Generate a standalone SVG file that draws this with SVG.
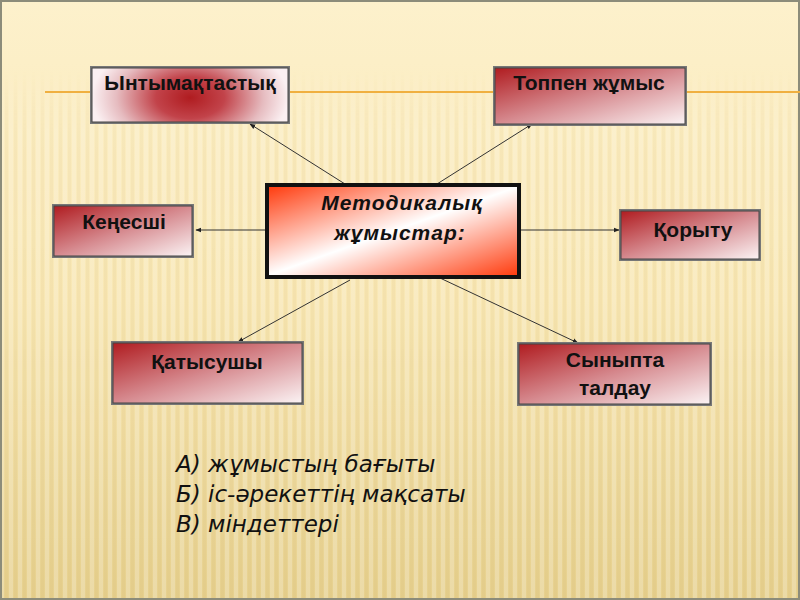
<svg xmlns="http://www.w3.org/2000/svg" width="800" height="600" viewBox="0 0 800 600">
<defs>
<linearGradient id="bg" x1="0" y1="0" x2="0" y2="1">
<stop offset="0" stop-color="#fdf1cc"/>
<stop offset="0.5" stop-color="#f8e7b4"/>
<stop offset="1" stop-color="#e6d08e"/>
</linearGradient>
<pattern id="stripes" width="9" height="10" patternUnits="userSpaceOnUse">
<rect x="0" y="0" width="4" height="10" fill="#ffffff" opacity="0.22"/>
<rect x="5" y="0" width="3" height="10" fill="#c9a85a" opacity="0.09"/>
</pattern>
<linearGradient id="fadeG" x1="0" y1="0" x2="0" y2="1">
<stop offset="0" stop-color="#fff" stop-opacity="0"/>
<stop offset="0.12" stop-color="#fff" stop-opacity="0.8"/>
<stop offset="1" stop-color="#fff" stop-opacity="1"/>
</linearGradient>
<mask id="fade"><rect x="0" y="70" width="800" height="530" fill="url(#fadeG)"/></mask>
<radialGradient id="rad" cx="0.5" cy="0.55" r="0.5" gradientTransform="translate(0.5 0.55) scale(1 2.2) translate(-0.5 -0.55)">
<stop offset="0" stop-color="#b01c20"/>
<stop offset="0.35" stop-color="#c2434a"/>
<stop offset="0.75" stop-color="#e6bcc0"/>
<stop offset="1" stop-color="#fbf0f2"/>
</radialGradient>
<linearGradient id="lin" x1="0" y1="0" x2="1" y2="1">
<stop offset="0" stop-color="#b01c20"/>
<stop offset="0.5" stop-color="#d68a8f"/>
<stop offset="1" stop-color="#fbf3f4"/>
</linearGradient>
<linearGradient id="ctr" x1="0" y1="0" x2="1" y2="1">
<stop offset="0" stop-color="#ff3d10"/>
<stop offset="0.5" stop-color="#ffffff"/>
<stop offset="1" stop-color="#ff3d10"/>
</linearGradient>
<marker id="ah" viewBox="0 0 10 10" refX="9" refY="5" markerWidth="6" markerHeight="6" orient="auto">
<path d="M0,1 L10,5 L0,9 z" fill="#222"/>
</marker>
<style>
.lbl { font-family:"Liberation Sans", Arial, sans-serif; font-weight:bold; font-size:21px; fill:#111; }
.ctrl { font-family:"Liberation Sans", Arial, sans-serif; font-weight:bold; font-style:italic; font-size:21px; fill:#111; letter-spacing:1px; }
.conn { stroke:#333; stroke-width:1; fill:none; marker-end:url(#ah); }
.note { font-family:"DejaVu Sans", sans-serif; font-style:italic; font-size:23px; fill:#111; }
</style>
</defs>
<rect x="0" y="0" width="800" height="600" fill="url(#bg)"/>
<rect x="0" y="70" width="800" height="530" fill="url(#stripes)" mask="url(#fade)"/>
<rect x="1" y="1" width="798" height="598" fill="none" stroke="#8c8c7a" stroke-width="2"/>
<line x1="45" y1="92" x2="800" y2="92" stroke="#f0b040" stroke-width="2"/>

<g id="connectors">
<line class="conn" x1="345" y1="184" x2="250" y2="124"/>
<line class="conn" x1="437" y1="184" x2="532" y2="124"/>
<line class="conn" x1="266" y1="230" x2="196" y2="230"/>
<line class="conn" x1="520" y1="230" x2="619" y2="230"/>
<line class="conn" x1="350" y1="280" x2="238" y2="342"/>
<line class="conn" x1="440" y1="278" x2="578" y2="343"/>
</g>

<g id="n1">
<rect x="90" y="66" width="200" height="58" fill="#777"/>
<rect x="92" y="68" width="196" height="54" fill="url(#rad)" stroke="#444" stroke-width="1"/>
<text class="lbl" x="190" y="90" text-anchor="middle">Ынтымақтастық</text>
</g>
<g id="n2">
<rect x="493" y="66" width="194" height="60" fill="#777"/>
<rect x="495" y="68" width="190" height="56" fill="url(#lin)" stroke="#444" stroke-width="1"/>
<text class="lbl" x="589" y="90" text-anchor="middle">Топпен жұмыс</text>
</g>
<g id="center">
<rect x="265" y="183" width="256" height="96" fill="#111"/>
<rect x="269" y="187" width="248" height="88" fill="url(#ctr)"/>
<text class="ctrl" x="402" y="210" text-anchor="middle">Методикалық</text>
<text class="ctrl" x="400" y="240" text-anchor="middle">жұмыстар:</text>
</g>
<g id="n3">
<rect x="52" y="204" width="142" height="54" fill="#777"/>
<rect x="54" y="206" width="138" height="50" fill="url(#lin)" stroke="#444" stroke-width="1"/>
<text class="lbl" x="124" y="229" text-anchor="middle">Кеңесші</text>
</g>
<g id="n4">
<rect x="619" y="209" width="142" height="52" fill="#777"/>
<rect x="621" y="211" width="138" height="48" fill="url(#lin)" stroke="#444" stroke-width="1"/>
<text class="lbl" x="693" y="237" text-anchor="middle">Қорыту</text>
</g>
<g id="n5">
<rect x="111" y="341" width="193" height="64" fill="#777"/>
<rect x="113" y="343" width="189" height="60" fill="url(#lin)" stroke="#444" stroke-width="1"/>
<text class="lbl" x="207" y="369" text-anchor="middle">Қатысушы</text>
</g>
<g id="n6">
<rect x="517" y="342" width="195" height="64" fill="#777"/>
<rect x="519" y="344" width="191" height="60" fill="url(#lin)" stroke="#444" stroke-width="1"/>
<text class="lbl" x="615" y="367" text-anchor="middle">Сыныпта</text>
<text class="lbl" x="615" y="395" text-anchor="middle">талдау</text>
</g>

<g id="notes">
<text class="note" x="176" y="472">А) жұмыстың бағыты</text>
<text class="note" x="176" y="502">Б) іс-әрекеттің мақсаты</text>
<text class="note" x="176" y="532">В) міндеттері</text>
</g>
</svg>
